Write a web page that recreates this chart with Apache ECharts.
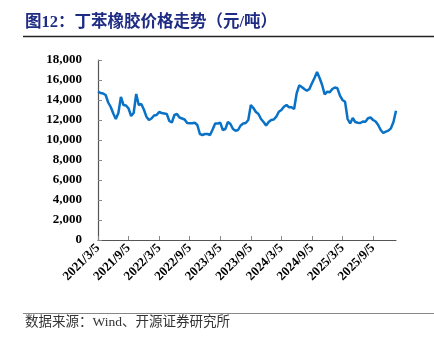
<!DOCTYPE html>
<html>
<head>
<meta charset="utf-8">
<script src="https://cdn.jsdelivr.net/npm/echarts@6/dist/echarts.min.js"></script>
<style>html,body{margin:0;padding:0;background:#fff;}#c{width:434px;height:338px;}</style>
</head>
<body>
<div id="c"></div>
<script>
var titleText = '图12：丁苯橡胶价格走势（元/吨）';
var sourceText = '数据来源：Wind、开源证券研究所';
var tickLabels = ['2021/3/5','2021/9/5','2022/3/5','2022/9/5','2023/3/5','2023/9/5','2024/3/5','2024/9/5','2025/3/5','2025/9/5'];
var yTicks = [0,2000,4000,6000,8000,10000,12000,14000,16000,18000];
// semi-monthly dates (5th and 20th) from 2021/3/5 to 2026/1/20
var categories = [];
(function(){
  var y = 2021, m = 3;
  while (categories.length < 118) {
    categories.push(y + '/' + m + '/5');
    categories.push(y + '/' + m + '/20');
    m++; if (m > 12) { m = 1; y++; }
  }
})();
var prices = [
14830,14700,14650,14500,13750,13300,12650,12100,12700,14300,
13500,13450,13150,12400,12700,14600,13500,13600,13050,12330,
12000,12150,12450,12500,12800,12700,12650,12600,11900,11750,
12500,12600,12250,12150,12050,11700,11670,11670,11730,11500,
10600,10500,10600,10600,10500,11050,11650,11650,11730,11000,
11100,11800,11600,11100,10930,11000,11450,11650,11700,12000,
13500,13200,12800,12600,12100,11800,11450,11800,12000,12050,
12330,12830,13000,13330,13500,13270,13270,13100,14670,15470,
15300,15100,14930,15100,15670,16200,16800,16200,15500,14550,
14830,14770,15100,15250,15170,14430,14000,13830,12100,11650,
12200,11800,11730,11700,11850,11830,12170,12250,12000,11850,
11500,11000,10700,10830,10930,11170,11800,12930
];
var tickSet = {};
tickLabels.forEach(function(t){ tickSet[t] = true; });
var chart = echarts.init(document.getElementById('c'), null, {renderer:'canvas'});
var axisFont = {fontFamily:'"Liberation Serif","Times New Roman",serif', fontWeight:'bold', fontSize:13, color:'#000'};
chart.setOption({
  animation:false,
  backgroundColor:'#fff',
  graphic:[
    {type:'text', left:25, top:14, style:{text:titleText, fill:'#1F2C84', font:'bold 16.5px "Liberation Serif","Noto Sans CJK SC",serif'}},
    {type:'line', shape:{x1:23,y1:36.5,x2:434,y2:36.5}, style:{stroke:'#222', lineWidth:1.5}},
    {type:'line', shape:{x1:23,y1:313.5,x2:434,y2:313.5}, style:{stroke:'#888', lineWidth:1.2}},
    {type:'text', left:25, top:316, style:{text:sourceText, fill:'#333', font:'13.5px "Liberation Serif","Noto Sans CJK SC",serif'}}
  ],
  grid:{left:98, right:38, top:60, bottom:98, containLabel:false},
  xAxis:{
    type:'category', data:categories, boundaryGap:false,
    axisLine:{lineStyle:{color:'#555', width:1.2}},
    axisTick:{inside:true, length:4, interval:function(i,v){return !!tickSet[v];}, lineStyle:{color:'#888'}},
    axisLabel:Object.assign({rotate:45, interval:function(i,v){return !!tickSet[v];}, margin:6}, axisFont),
    splitLine:{show:false}
  },
  yAxis:{
    type:'value', min:0, max:18000, interval:2000,
    axisLine:{show:true, lineStyle:{color:'#555', width:1.2}},
    axisTick:{show:true, inside:true, length:4, lineStyle:{color:'#888'}},
    axisLabel:Object.assign({margin:16, formatter:function(v){return v.toLocaleString('en-US');}}, axisFont),
    splitLine:{show:false}
  },
  series:[{
    type:'line', data:prices, symbol:'none', smooth:false,
    lineStyle:{color:'#0A72C6', width:2.5}
  }]
});
</script>
</body>
</html>
